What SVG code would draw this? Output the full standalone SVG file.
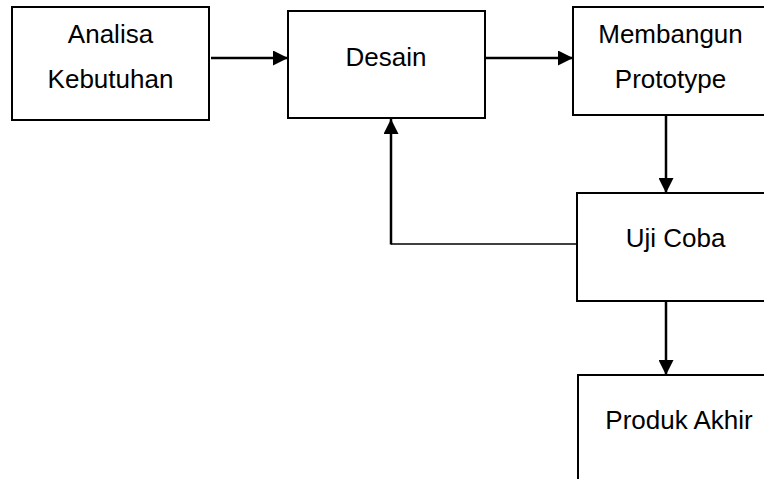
<svg xmlns="http://www.w3.org/2000/svg" width="764" height="479" viewBox="0 0 764 479">
<style>
.box{fill:#fff;stroke:#000;stroke-width:2}
.t{font-family:"Liberation Sans",Arial,sans-serif;font-size:26px;fill:#000;text-anchor:middle}
.c{fill:none;stroke:#000;stroke-width:2.5}
.thin{fill:none;stroke:#000;stroke-width:1.3}
</style>
<defs>
<marker id="ah" markerWidth="15" markerHeight="15" refX="15" refY="7.5" orient="auto" markerUnits="userSpaceOnUse">
<path d="M0,0 L15,7.5 L0,15 Z" fill="#000"/>
</marker>
</defs>
<rect width="764" height="479" fill="#fff"/>
<g id="analisa"><rect class="box" x="12" y="7" width="197" height="113"/><text class="t" x="110.5" y="43">Analisa</text><text class="t" x="110.5" y="88">Kebutuhan</text></g>
<g id="desain"><rect class="box" x="288" y="11" width="197" height="107"/><text class="t" x="386" y="66">Desain</text></g>
<g id="membangun"><rect class="box" x="573" y="7" width="200" height="108"/><text class="t" x="670.5" y="43">Membangun</text><text class="t" x="670.5" y="88">Prototype</text></g>
<g id="ujicoba"><rect class="box" x="577" y="193" width="200" height="108"/><text class="t" x="675.5" y="247">Uji Coba</text></g>
<g id="produk"><rect class="box" x="578" y="375" width="200" height="120"/><text class="t" x="679" y="429">Produk Akhir</text></g>
<g id="connectors">
<path class="c" d="M211,58 H288" marker-end="url(#ah)"/>
<path class="c" d="M486,58 H573" marker-end="url(#ah)"/>
<path class="c" d="M666,115 V193" marker-end="url(#ah)"/>
<path class="c" d="M666,301 V375" marker-end="url(#ah)"/>
<path class="thin" d="M577,244 H391"/>
<path class="c" d="M391,244.5 V119" marker-end="url(#ah)"/>
</g>
</svg>
